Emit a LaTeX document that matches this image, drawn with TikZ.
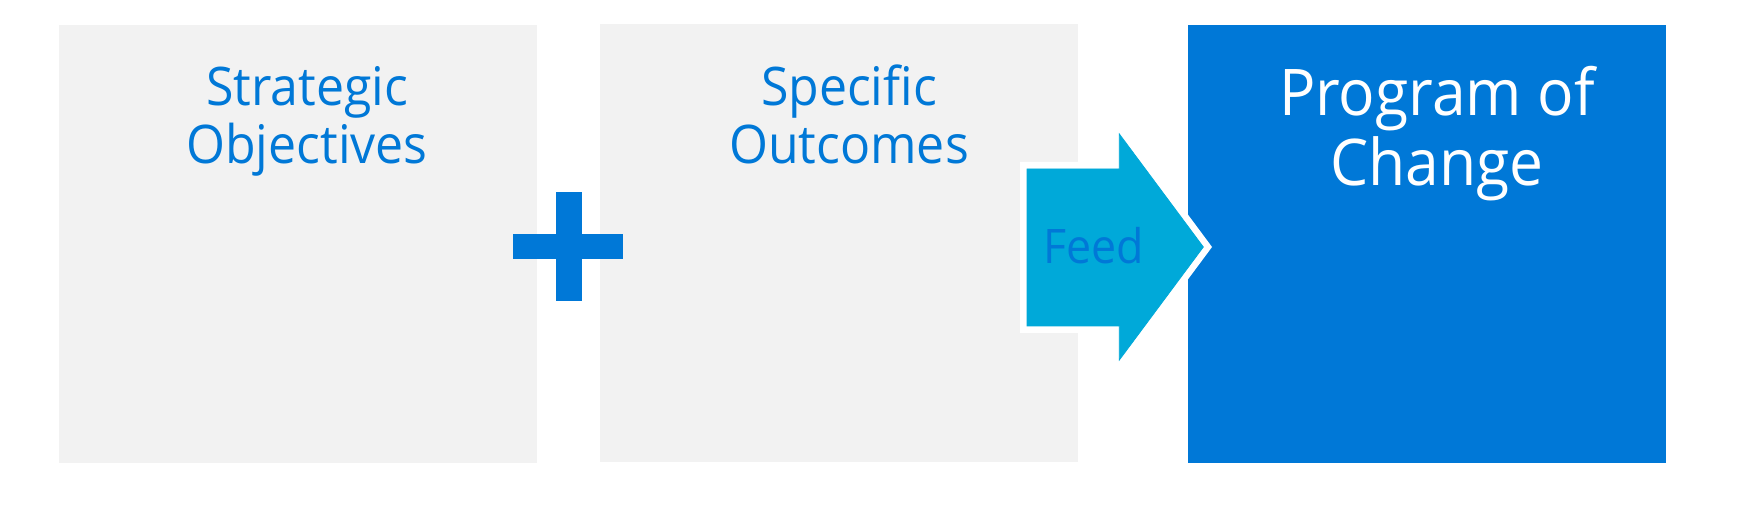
\documentclass[tikz,border=0pt]{standalone}
\usepackage{fontspec}
\setmainfont{Open Sans}[FakeStretch=0.94]
\usepackage{tikz}
\usetikzlibrary{positioning,calc}
\definecolor{boxgrey}{HTML}{F2F2F2}
\definecolor{msblue}{HTML}{0078D7}
\definecolor{feedcyan}{HTML}{00A9D9}

\begin{document}
\begin{tikzpicture}[x=0.5pt,y=-0.5pt,
    greybox/.style={fill=boxgrey, inner sep=0pt, minimum width=239pt, minimum height=219pt},
    bluebox/.style={fill=msblue, inner sep=0pt, minimum width=239pt, minimum height=219pt},
    lbl/.style={anchor=base, inner sep=0pt, text=msblue, font=\fontsize{26.6}{30}\selectfont}]
    \useasboundingbox (0,0) rectangle (1761,507);
    % three blocks
    \node[greybox] (strat) at (297.6,243.7) {};
    \node[greybox] (spec) at (839.4,243.2) {};
    \node[bluebox] (prog) at (1426.7,243.7) {};
    % titles
    \node[lbl] (strat1) at (307,105.5) {Strategic};
    \node[lbl] (strat2) at (307,164) {Objectives};
    \node[lbl] (spec1) at (849,105.5) {Specific};
    \node[lbl] (spec2) at (849,164) {Outcomes};
    \node[lbl, text=white, font=\fontsize{32.2}{36}\selectfont] (prog1) at (1437,115.7) {Program of};
    \node[lbl, text=white, font=\fontsize{32.2}{36}\selectfont] (prog2) at (1437,185.3) {Change};
    % plus sign
    \fill[msblue] (556,192) rectangle (582,301);
    \fill[msblue] (513,234) rectangle (623,259);
    % feed arrow with white rim
    \filldraw[feedcyan, preaction={draw=white, line width=7pt, line join=miter}]
        (1027,169) -- (1119.3,169) -- (1119.3,134) -- (1203.3,247) -- (1119.3,360)
        -- (1119.3,326) -- (1027,326) -- cycle;
    \node[lbl, font=\fontsize{23.8}{28}\selectfont] (feed) at (1094,264) {Feed};
\end{tikzpicture}
\end{document}
